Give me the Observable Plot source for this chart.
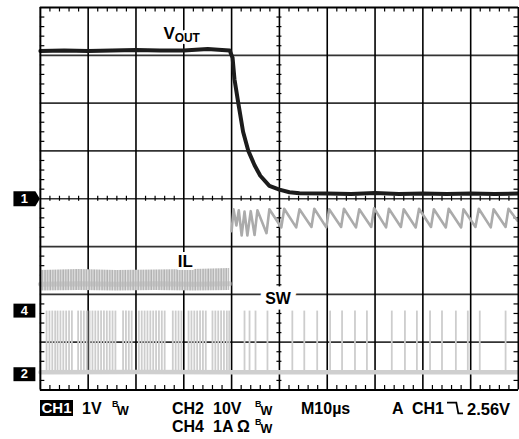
<!DOCTYPE html>
<html><head><meta charset="utf-8">
<script src="https://cdn.jsdelivr.net/npm/d3@7"></script>
<script src="https://cdn.jsdelivr.net/npm/@observablehq/plot@0.6"></script>
<style>
html,body{margin:0;padding:0;background:#fff;overflow:hidden}
#wrap{position:relative;width:519px;height:439px;overflow:hidden;font-family:"Liberation Sans",Arial,sans-serif;font-weight:bold;color:#000}
#chart svg{display:block;overflow:visible}
.cap{position:absolute;white-space:nowrap}
</style></head><body>
<div id="wrap"><div id="chart"></div><div id="caption"></div></div>
<script>
// ---- scope settings (10 µs/div horizontally, 8 divisions vertically) ----
const timeGrid = [10, 20, 30, 40, 50, 60, 70, 80, 90];
const divGrid = [-3, -2, -1, 0, 1, 2, 3];
const channelNames = ["CH1", "CH4", "CH2"];
const channelMarkers = ["1", "4", "2"];
const channelOffsetDiv = [0, -2.34, -3.67];   // ground marker positions
const channelPerDiv = [1, 1, 10];             // 1 V/div, 1 A/div, 10 V/div

// ---- CH1: VOUT (V) ----
const voutT = [0, 5, 10, 15, 20, 25, 30, 35, 38, 39.6, 40.2, 40.6, 41.4, 42.4, 43.5, 44.8, 46.0, 47.9, 50.0, 52.1, 54.2, 60, 65, 70, 75, 80, 85, 90, 95, 100];
const voutV = [3.09, 3.10, 3.09, 3.10, 3.11, 3.10, 3.10, 3.13, 3.11, 3.10, 2.95, 2.5, 2.0, 1.4, 1.0, 0.7, 0.48, 0.27, 0.19, 0.135, 0.115, 0.11, 0.10, 0.12, 0.10, 0.11, 0.10, 0.11, 0.10, 0.11];

// ---- CH4: IL (A) ----
const ilBandT = [0, 8, 16, 24, 32, 39.6];
const ilBandHi = [0.84, 0.86, 0.84, 0.85, 0.86, 0.88];
const ilBandLo = [0.41, 0.42, 0.41, 0.42, 0.41, 0.42];
const ilBandMid = [0.55, 0.56, 0.55, 0.56, 0.55, 0.56];
const ilSawT = [40.0, 40.4, 41.0, 41.5, 42.1, 42.7, 43.3, 44.0, 44.8, 45.4, 47.3, 47.9, 50.4, 51.0, 53.5, 54.2, 56.7, 57.3, 59.8, 60.4, 62.9, 63.5, 66.0, 66.7, 69.2, 69.8, 72.3, 72.9, 75.4, 76.0, 78.5, 79.2, 81.7, 82.3, 84.8, 85.4, 88.0, 88.5, 91.0, 91.7, 94.2, 94.8, 97.3, 97.9, 99.8];
const ilSawA = [1.66, 2.12, 1.78, 2.10, 1.57, 2.07, 1.57, 2.08, 1.58, 2.10, 1.62, 2.12, 1.74, 2.13, 1.74, 2.12, 1.75, 2.13, 1.74, 2.12, 1.75, 2.13, 1.74, 2.12, 1.75, 2.14, 1.74, 2.13, 1.75, 2.12, 1.74, 2.13, 1.75, 2.12, 1.74, 2.13, 1.74, 2.12, 1.75, 2.13, 1.74, 2.12, 1.75, 2.13, 1.88];

// ---- CH2: SW (V) ----
const swBaseT = [0, 20, 40, 60, 80, 100];
const swBaseV = [0.4, 0.45, 0.4, 0.42, 0.4, 0.42];
const swHighV = 13.2;
const swPulseT = [
  1.3, 1.9, 2.5, 3.1, 3.6, 4.2, 4.8, 5.4, 6.0, 6.6,
  7.9, 8.5, 9.1, 9.7, 10.3, 10.9, 11.5, 12.1, 12.7, 13.3, 13.9, 14.5, 15.1, 15.7,
  17.3, 17.9, 18.5, 19.1,
  20.6, 21.2, 21.8, 22.4, 23.0, 23.6, 24.2, 24.8, 25.4, 26.0,
  27.7, 28.3, 28.9, 29.5,
  31.0, 31.6, 32.2, 32.8, 33.4, 34.0, 34.6,
  36.0, 36.6, 37.2, 37.8, 38.4, 39.0, 39.5,
  42.7, 43.75, 45.0, 47.5, 52.7, 55.2, 57.9, 60.6, 63.1, 65.8, 68.3,
  73.5, 76.25, 78.75, 81.5, 84.0, 86.9, 89.4, 91.9, 97.3
];

// ---- labels ----
const traceLabels = ["V", "OUT", "IL", "SW"];

// ---- conversions to screen divisions ----
const toDiv = (ch, v) => channelOffsetDiv[ch] + v / channelPerDiv[ch];
const vout = voutT.map((t, i) => ({t, y: toDiv(0, voutV[i])}));
const ilBand = ilBandT.map((t, i) => ({t, y1: toDiv(1, ilBandLo[i]), y2: toDiv(1, ilBandHi[i]), ym: toDiv(1, ilBandMid[i])}));
const ilSaw = ilSawT.map((t, i) => ({t, y: toDiv(1, ilSawA[i])}));
const swBase = swBaseT.map((t, i) => ({t, y: toDiv(2, swBaseV[i])}));
const swPulses = swPulseT.map(t => ({t, y1: toDiv(2, swBaseV[0]), y2: toDiv(2, swHighV)}));
const markers = channelNames.map((c, i) => ({c, m: channelMarkers[i], y: channelOffsetDiv[i]}));

const xMinor = d3.range(2, 100, 2).filter(v => v % 10 !== 0);
const yMinor = d3.range(-19, 20).map(k => k / 5).filter(v => Math.abs(v - Math.round(v)) > 1e-6);
const pxX = 4.8, pxY = 48; // pixels per unit, used only for tick lengths
const font = "Liberation Sans, Arial, sans-serif";

const arrowSymbol = {draw(ctx) { ctx.moveTo(-27, -7.5); ctx.lineTo(-5, -7.5); ctx.lineTo(-0.5, 0); ctx.lineTo(-5, 7.5); ctx.lineTo(-27, 7.5); ctx.closePath(); }};
const boxSymbol = {draw(ctx) { ctx.moveTo(-27, -7); ctx.lineTo(-5, -7); ctx.lineTo(-5, 7); ctx.lineTo(-27, 7); ctx.closePath(); }};

const chart = Plot.plot({
  width: 521, height: 392,
  marginLeft: 40, marginRight: 1, marginTop: 7, marginBottom: 1,
  x: {domain: [0, 100], axis: null},
  y: {domain: [-4, 4], axis: null},
  style: {background: "white"},
  marks: [
    // grid
    Plot.ruleY(divGrid, {y: d => d, stroke: "#333", strokeWidth: 1.7}),
    Plot.ruleX(timeGrid, {x: d => d, stroke: "#000", strokeWidth: 1.6}),
    // minor ticks
    Plot.ruleX(xMinor, {x: d => d, y1: 4, y2: 4 - 4.5 / pxY, stroke: "#000", strokeWidth: 1.2}),
    Plot.ruleX(xMinor, {x: d => d, y1: -4, y2: -4 + 4.5 / pxY, stroke: "#000", strokeWidth: 1.2}),
    Plot.ruleX(xMinor, {x: d => d, y1: -2.5 / pxY, y2: 2.5 / pxY, stroke: "#000", strokeWidth: 1.2}),
    Plot.ruleY(yMinor, {y: d => d, x1: 0, x2: 4.5 / pxX, stroke: "#000", strokeWidth: 1.2}),
    Plot.ruleY(yMinor, {y: d => d, x1: 100 - 4.5 / pxX, x2: 100, stroke: "#000", strokeWidth: 1.2}),
    Plot.ruleY(yMinor, {y: d => d, x1: 50 - 2.5 / pxX, x2: 50 + 2.5 / pxX, stroke: "#000", strokeWidth: 1.2}),
    // SW
    Plot.ruleX(swPulses, {x: "t", y1: "y1", y2: "y2", stroke: "#cdcdcd", strokeWidth: 1.8}),
    Plot.line(swBase, {x: "t", y: "y", stroke: "#cfcfcf", strokeWidth: 4.5}),
    // IL
    Plot.areaY(ilBand, {x: "t", y1: "y1", y2: "y2", fill: "url(#ilTex)"}),
    Plot.line(ilBand, {x: "t", y: "ym", stroke: "#b8b8b8", strokeWidth: 5, strokeOpacity: 0.6}),
    Plot.line(ilSaw, {x: "t", y: "y", stroke: "#ababab", strokeWidth: 2.6}),
    // VOUT
    Plot.line(vout, {x: "t", y: "y", stroke: "#1c1c1c", strokeWidth: 4}),
    // frame
    Plot.ruleX([0, 100], {x: d => d, stroke: "#000", strokeWidth: 2}),
    Plot.ruleY([-4, 4], {y: d => d, stroke: "#000", strokeWidth: 2}),
    // trace labels
    Plot.text([traceLabels[0]], {x: 28.1, y: 3.344, text: d => d, textAnchor: "end", lineAnchor: "bottom", fontSize: 17, fontWeight: "bold", fontFamily: font, fill: "#000", stroke: "white", strokeWidth: 6}),
    Plot.text([traceLabels[1]], {x: 28.1, y: 3.344, dy: 3, text: d => d, textAnchor: "start", lineAnchor: "bottom", fontSize: 12, fontWeight: "bold", fontFamily: font, fill: "#000", stroke: "white", strokeWidth: 6}),
    Plot.text([traceLabels[2]], {x: 30.3, y: -1.4375, text: d => d, textAnchor: "middle", lineAnchor: "bottom", fontSize: 17, fontWeight: "bold", fontFamily: font, fill: "#000", stroke: "white", strokeWidth: 6}),
    Plot.text([traceLabels[3]], {x: 49.7, y: -2.208, text: d => d, textAnchor: "middle", lineAnchor: "bottom", fontSize: 16, fontWeight: "bold", fontFamily: font, fill: "#000", stroke: "white", strokeWidth: 11, strokeLinejoin: "miter"}),
    // channel markers
    Plot.dot(markers.slice(0, 1), {y: "y", frameAnchor: "left", symbol: arrowSymbol, fill: "#000", stroke: "none"}),
    Plot.dot(markers.slice(1), {y: "y", frameAnchor: "left", symbol: boxSymbol, fill: "#000", stroke: "none"}),
    Plot.text(markers, {y: "y", frameAnchor: "left", dx: -16, text: "m", fill: "#fff", fontSize: 13, fontWeight: "bold", fontFamily: font, textAnchor: "middle"})
  ]
});
// vertical-stripe texture for the high-frequency inductor-current band
const svgNS = "http://www.w3.org/2000/svg";
const defs = document.createElementNS(svgNS, "defs");
defs.innerHTML = '<pattern id="ilTex" patternUnits="userSpaceOnUse" width="2.6" height="6"><rect width="2.6" height="6" fill="#e2e2e2"/><rect x="0.4" width="1.2" height="6" fill="#a9a9a9"/></pattern>';
chart.insertBefore(defs, chart.firstChild);
document.getElementById("chart").appendChild(chart);

// ---- readout below the graticule ----
const readout = [
  {text: "CH1", x: 40, base: 415, size: 15, inverse: true},
  {text: "1V", x: 82, base: 415, size: 16},
  {text: "B", x: 112, base: 407.5, size: 9},
  {text: "W", x: 117, base: 416, size: 12.5},
  {text: "CH2", x: 172, base: 415, size: 16},
  {text: "10V", x: 213, base: 415, size: 16},
  {text: "B", x: 255, base: 407.5, size: 9},
  {text: "W", x: 260.5, base: 416, size: 12.5},
  {text: "M10µs", x: 301, base: 415, size: 16},
  {text: "A", x: 392, base: 415, size: 16},
  {text: "CH1", x: 412, base: 415, size: 16},
  {text: "2.56V", x: 467, base: 415, size: 16.5},
  {text: "CH4", x: 172, base: 433, size: 16},
  {text: "1A", x: 213, base: 433, size: 16},
  {text: "Ω", x: 237, base: 433, size: 16},
  {text: "B", x: 255, base: 425.5, size: 9},
  {text: "W", x: 260.5, base: 434, size: 12.5}
];
const cap = document.getElementById("caption");
for (const r of readout) {
  const el = document.createElement("div");
  el.className = "cap";
  el.textContent = r.text;
  if (r.inverse) {
    Object.assign(el.style, {left: r.x + "px", top: "400px", width: "33px", height: "16px", lineHeight: "16px", fontSize: r.size + "px", background: "#000", color: "#fff", textAlign: "center"});
  } else {
    Object.assign(el.style, {left: r.x + "px", top: (r.base - 0.8465 * r.size) + "px", lineHeight: r.size + "px", fontSize: r.size + "px"});
  }
  cap.appendChild(el);
}
// falling-edge trigger glyph
const trig = document.createElementNS(svgNS, "svg");
trig.setAttribute("width", "17"); trig.setAttribute("height", "14");
Object.assign(trig.style, {position: "absolute", left: "447px", top: "401px"});
const pl = document.createElementNS(svgNS, "polyline");
pl.setAttribute("points", "0,1.7 9.3,1.7 11.3,12.3 16,12.3");
pl.setAttribute("fill", "none"); pl.setAttribute("stroke", "#000"); pl.setAttribute("stroke-width", "1.8");
trig.appendChild(pl);
cap.appendChild(trig);
</script>
</body></html>
